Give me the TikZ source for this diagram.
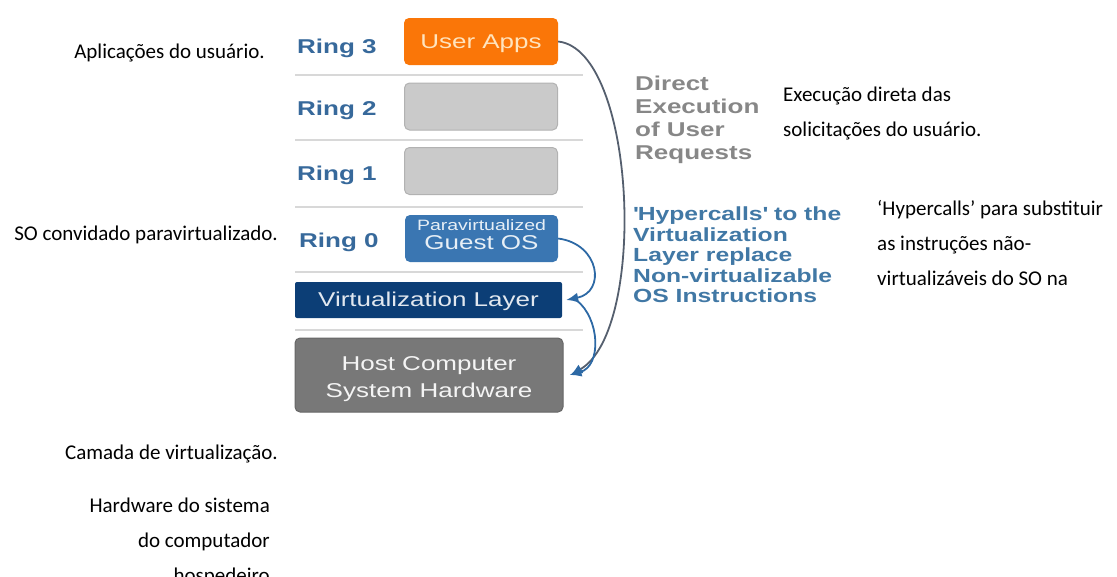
\documentclass[tikz,border=0pt]{standalone}
\usepackage{fontspec}
\setmainfont{Carlito}
\newfontfamily\diagfont[FakeStretch=1.3]{Liberation Sans}
\usetikzlibrary{arrows.meta,positioning}
\definecolor{ringblue}{RGB}{55,105,155}
\definecolor{appsorange}{RGB}{250,118,8}
\definecolor{appstext}{RGB}{255,228,190}
\definecolor{emptyfill}{RGB}{202,202,202}
\definecolor{emptyedge}{RGB}{178,178,178}
\definecolor{guestblue}{RGB}{58,118,178}
\definecolor{virtblue}{RGB}{12,62,118}
\definecolor{hostgray}{RGB}{120,120,120}
\definecolor{sepgray}{RGB}{216,216,216}
\definecolor{directgray}{RGB}{135,135,135}
\definecolor{hyperblue}{RGB}{65,120,165}
\definecolor{arcgray}{RGB}{85,95,110}
\definecolor{arrowblue}{RGB}{45,105,165}

\begin{document}
\begin{tikzpicture}[x=1pt, y=-1pt,
  note/.style={font=\fontsize{21}{35}\selectfont, inner sep=0pt, align=right},
  ringlabel/.style={font=\diagfont\bfseries\fontsize{20}{24}\selectfont, text=ringblue, anchor=base west, inner sep=0pt},
  layer/.style={rounded corners=5pt, align=center, inner sep=0pt, font=\diagfont\fontsize{20}{27}\selectfont},
  sep/.style={draw=sepgray, line width=1.6pt},
  callarrow/.style={draw=arrowblue, line width=1.8pt, -{Latex[length=12pt,width=10pt]}}]
\useasboundingbox (0,0) rectangle (1117,576);

% ring separators
\foreach \y in {75,140,207,272,330}
  \draw[sep] (295,\y) -- (583,\y);

% rings and their layers
\node[ringlabel] (r3) at (297,53) {Ring 3};
\node[ringlabel] (r2) at (297,115) {Ring 2};
\node[ringlabel] (r1) at (297,180) {Ring 1};
\node[ringlabel] (r0) at (299,247) {Ring 0};

\node[layer, fill=appsorange, text=appstext, minimum width=154pt, minimum height=47pt] (apps) at (481,41.5) {\rule{0pt}{18pt}User Apps};
\node[layer, fill=emptyfill, draw=emptyedge, line width=1pt, minimum width=153pt, minimum height=47pt] (ring2box) at (481,106.5) {};
\node[layer, fill=emptyfill, draw=emptyedge, line width=1pt, minimum width=153pt, minimum height=47pt] (ring1box) at (481,171) {};
\node[layer, fill=guestblue, text=white!88!guestblue, minimum width=153pt, minimum height=47pt,
  font=\diagfont\fontsize{20}{19}\selectfont] (guest) at (481.5,238.5)
  {{\fontsize{15}{15}\selectfont Paravirtualized}\\Guest OS\rule[-8pt]{0pt}{8pt}};
\node[layer, fill=virtblue, text=white!88!virtblue, rounded corners=2pt, minimum width=267pt, minimum height=36pt] (virt) at (428.5,300) {\rule{0pt}{17pt}Virtualization Layer};
\node[layer, fill=hostgray, draw=hostgray!85!black, line width=1pt, text=white!92!hostgray, minimum width=268pt, minimum height=74pt] (host) at (429,375) {\rule{0pt}{23pt}Host Computer\\System Hardware};

% direct path and hypercalls
\draw[draw=arcgray, line width=1.8pt, -{Latex[length=12pt,width=10pt,color=arrowblue]}]
  (apps.east) .. controls (636,50) and (648,330) .. ([xshift=7pt]host.east);
\draw[callarrow] (guest.east) .. controls (600,244) and (606,292) .. ([xshift=4pt]virt.east);
\draw[callarrow] ([xshift=14pt]virt.east) .. controls (600,318) and (602,366) .. ([xshift=6pt]host.east);

\node[font=\diagfont\bfseries\fontsize{20}{23}\selectfont, text=directgray, anchor=north west, align=left, inner sep=0pt] (direct) at (635,76)
  {Direct\\Execution\\of User\\Requests};
\node[font=\diagfont\bfseries\fontsize{19}{20.5}\selectfont, text=hyperblue, anchor=north west, align=left, inner sep=0pt] (hyper) at (633,207)
  {\textquotesingle Hypercalls\textquotesingle{} to the\\Virtualization\\Layer replace\\Non-virtualizable\\OS Instructions};

% portuguese notes
\node[note, anchor=base east] (apps pt) at (265,58) {Aplicações do usuário.};
\node[note, anchor=base east] (guest pt) at (278,240) {SO convidado paravirtualizado.};
\node[note, anchor=base east] (virt pt) at (278,459) {Camada de virtualização.};
\node[note, anchor=north east] (host pt) at (270,498) {Hardware do sistema\\do computador\\hospedeiro};
\node[note, anchor=north west, align=left] (direct pt) at (783,87) {Execução direta das\\solicitações do usuário.};
\node[note, anchor=north west, align=left] (hyper pt) at (877,200) {‘Hypercalls’ para substituir\\as instruções não-\\virtualizáveis do SO na};
\end{tikzpicture}
\end{document}
